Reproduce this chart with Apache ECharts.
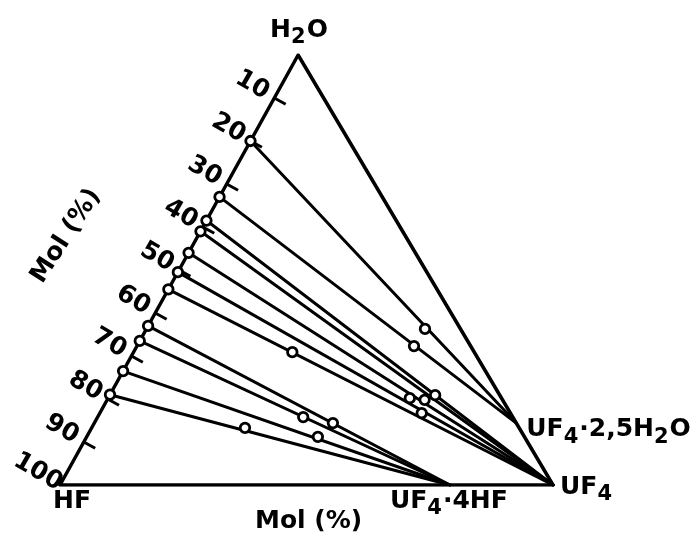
<!DOCTYPE html>
<html><head><meta charset="utf-8">
<script src="https://cdn.jsdelivr.net/npm/echarts@6/dist/echarts.min.js"></script>
<style>html,body{margin:0;padding:0;background:#fff}#c{width:698px;height:535px}</style>
</head><body><div id="c"></div>
<script>
// ---- data (mol %) ----
const tickValues = [10, 20, 30, 40, 50, 60, 70, 80, 90, 100];   // HF mol % along HF–H2O side
const tickLabels = ['10', '20', '30', '40', '50', '60', '70', '80', '90', '100'];
// liquid phase compositions on the HF–H2O side (HF mol %, UF4 ≈ 0)
const liquidHF = [20, 33, 38.5, 41, 46, 50.5, 54.5, 63, 66.5, 73.5, 79];
// solid phase each tie line runs to
const tieSolid = ['UF4·2,5H2O', 'UF4·2,5H2O', 'UF4', 'UF4', 'UF4', 'UF4', 'UF4', 'UF4·4HF', 'UF4·4HF', 'UF4·4HF', 'UF4·4HF'];
// solid phases: name, H2O mol %, UF4 mol %
const solidNames = ['UF4·2,5H2O', 'UF4', 'UF4·4HF'];
const solidH2O = [14.4, 0, 0];
const solidUF4 = [85.6, 100, 79.1];
// wet residue compositions (H2O mol %, UF4 mol %)
const residueH2O = [36.3, 32.3, 20.9, 19.8, 20.2, 16.7, 30.9, 14.4, 15.8, 11.2, 13.3];
const residueUF4 = [56.5, 56.2, 66.0, 64.4, 61.2, 65.3, 32.2, 48.4, 41.7, 46.9, 31.1];

// ---- layout ----
const SKEW = 0.483;           // horizontal position of the H2O apex along the base (0..1)
const FONT = '"DejaVu Sans", sans-serif';
const FS = 25, SFS = 21, SUBDY = 8;

function xy(h2o, uf4) { return [uf4 + h2o * SKEW, h2o]; }

const chart = echarts.init(document.getElementById('c'), null, { renderer: 'canvas' });

const black = '#000';
const series = [];
// triangle
series.push({
  type: 'line', silent: true, symbol: 'none', animation: false,
  lineStyle: { color: black, width: 3.5, join: 'round', cap: 'round' },
  data: [xy(0, 0), xy(0, 100), xy(100, 0), xy(0, 0)]
});
// tie lines
liquidHF.forEach((hf, i) => {
  const k = solidNames.indexOf(tieSolid[i]);
  series.push({
    type: 'line', silent: true, symbol: 'none', animation: false,
    lineStyle: { color: black, width: 3, join: 'round', cap: 'round' },
    data: [xy(100 - hf, 0), xy(solidH2O[k], solidUF4[k])]
  });
});
// points
const circleStyle = { color: '#fff', borderColor: black, borderWidth: 2.8, opacity: 1 };
series.push({
  type: 'scatter', animation: false, symbol: 'circle', symbolSize: 9.5, silent: true,
  itemStyle: circleStyle, z: 5,
  data: liquidHF.map(hf => xy(100 - hf, 0))
});
series.push({
  type: 'scatter', animation: false, symbol: 'circle', symbolSize: 9.5, silent: true,
  itemStyle: circleStyle, z: 5,
  data: residueH2O.map((h, i) => xy(h, residueUF4[i]))
});

chart.setOption({
  animation: false,
  backgroundColor: '#fff',
  grid: { left: 60, right: 145, top: 55, bottom: 50 },
  xAxis: { type: 'value', min: 0, max: 100, show: false },
  yAxis: { type: 'value', min: 0, max: 100, show: false },
  series
});

// ---- text helpers ----
const mctx = document.createElement('canvas').getContext('2d');
function tw(s, size) { mctx.font = 'bold ' + size + 'px ' + FONT; return mctx.measureText(s).width; }
function chemParts(s) {
  const parts = [];
  for (let i = 0; i < s.length; i++) {
    const c = s[i];
    const sub = /\d/.test(c) && i > 0 && /[A-Za-z]/.test(s[i - 1]);
    if (parts.length && parts[parts.length - 1].sub === sub) parts[parts.length - 1].t += c;
    else parts.push({ t: c, sub });
  }
  return parts;
}
function label(str, x, y, align, rotation) {
  const parts = chemParts(str);
  let w = 0;
  parts.forEach(p => { p.x = w; w += tw(p.t, p.sub ? SFS : FS) + (p.sub ? 1 : 0); });
  const off = align === 'center' ? -w / 2 : 0;
  return {
    type: 'group', x, y, rotation: rotation || 0, silent: true,
    children: parts.map(p => ({
      type: 'text', x: p.x + off, y: p.sub ? SUBDY : 0,
      style: { text: p.t, fill: black, font: 'bold ' + (p.sub ? SFS : FS) + 'px ' + FONT,
               align: 'left', verticalAlign: 'middle' }
    }))
  };
}
const px = (h2o, uf4) => chart.convertToPixel({ gridIndex: 0 }, xy(h2o, uf4));

const graphics = [];
// ticks + labels along HF–H2O side
const apex = px(100, 0), hfc = px(0, 0), ufc = px(0, 100);
const ex = hfc[0] - apex[0], ey = hfc[1] - apex[1], el = Math.hypot(ex, ey);
const nx = -ey / el, ny = ex / el;  // inward normal
const nrm = (nx > 0) ? [nx, ny] : [-nx, -ny];
tickValues.forEach((v, i) => {
  const p = px(100 - v, 0);
  if (v < 100) graphics.push({
    type: 'line', silent: true, z: 1,
    shape: { x1: p[0], y1: p[1], x2: p[0] + nrm[0] * 13, y2: p[1] + nrm[1] * 13 },
    style: { stroke: black, lineWidth: 3 }
  });
  graphics.push({
    type: 'text', silent: true, x: p[0] - 22, y: p[1] - 13, rotation: -Math.PI / 6,
    style: { text: tickLabels[i], fill: black, font: 'bold ' + FS + 'px ' + FONT,
             align: 'center', verticalAlign: 'middle' }
  });
});
// vertex / phase names
graphics.push(label('H2O', apex[0] - 28, apex[1] - 25, 'left'));
graphics.push(label('HF', hfc[0] - 7, hfc[1] + 16, 'left'));
graphics.push(label('UF4', ufc[0] + 7, ufc[1] + 2, 'left'));
const s0 = px(solidH2O[0], solidUF4[0]);
graphics.push(label(solidNames[0], s0[0] + 10, s0[1] + 6, 'left'));
const s2 = px(solidH2O[2], solidUF4[2]);
graphics.push(label(solidNames[2], s2[0] - 60, s2[1] + 16, 'left'));
graphics.push(label('Mol (%)', hfc[0] + 195, hfc[1] + 36, 'left'));
graphics.push(label('Mol (%)', 66, 236, 'center', Math.PI * 57 / 180));

chart.setOption({ graphic: graphics });
</script>
</body></html>
